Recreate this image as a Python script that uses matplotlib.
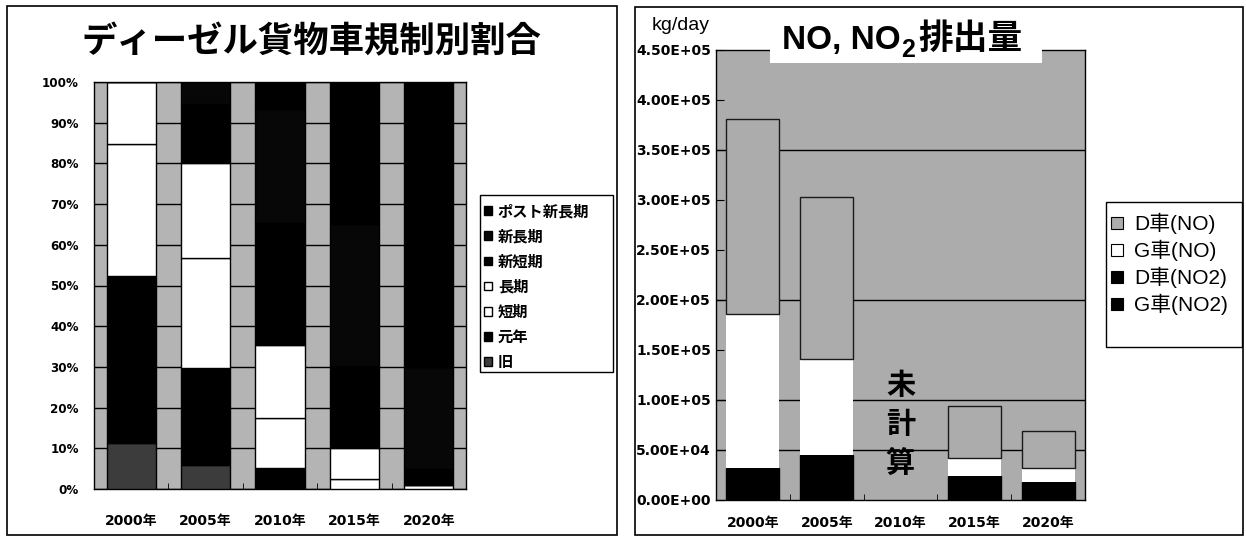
import numpy as np
import matplotlib
matplotlib.use("Agg")
import matplotlib.pyplot as plt
from matplotlib.patches import Rectangle, Patch
from matplotlib.text import Annotation

# ---------------------------------------------------------------- data
years = ["2000年", "2005年", "2010年", "2015年", "2020年"]

# ディーゼル貨物車 規制別構成比 (%), stacked bottom -> top
reg_labels = ["旧", "元年", "短期", "長期", "新短期", "新長期", "ポスト新長期"]
share_old = [11.3, 6.0, 0.0, 0.0, 0.0]
share_h1 = [41.0, 23.7, 5.2, 0.0, 0.0]
share_short = [32.4, 27.0, 12.2, 2.5, 1.0]
share_long = [15.3, 23.3, 18.0, 7.6, 0.0]
share_new_short = [0.0, 14.7, 30.0, 20.0, 4.0]
share_new_long = [0.0, 5.3, 28.0, 35.0, 25.0]
share_post = [0.0, 0.0, 6.6, 34.9, 70.0]

# NO / NO2 排出量 (kg/day), stacked bottom -> top; 2010年 is not computed
emis_labels = ["G車(NO2)", "D車(NO2)", "G車(NO)", "D車(NO)"]
g_no2 = [4000, 3300, np.nan, 1700, 1200]
d_no2 = [28000, 41000, np.nan, 22000, 16500]
g_no = [153300, 96000, np.nan, 18300, 14300]
d_no = [194700, 161700, np.nan, 51300, 36300]

# ---------------------------------------------------------------- layout
W, H = 1246, 541
fig = plt.figure(figsize=(W / 100, H / 100), dpi=100, facecolor="white")


def fx(px):
    return px / W


def fy(py):
    return 1 - py / H


CJK = "Noto Sans CJK JP"
LAT = ["DejaVu Sans", CJK]
ARIAL = ["Liberation Sans", CJK]
BG_LEFT = "#b4b4b4"
BG_RIGHT = "#acacac"

# panel frames
for x0, y0, x1, y1 in [(7, 6, 617, 535), (635, 7, 1243, 535)]:
    fig.add_artist(Rectangle((fx(x0), fy(y1)), (x1 - x0) / W, (y1 - y0) / H,
                             transform=fig.transFigure, fill=False,
                             ec="black", lw=1.2, zorder=0))

# ================================================================ left chart
ax1 = fig.add_axes([fx(94), fy(489), (466 - 94) / W, (489 - 82) / H])
ax1.set_facecolor(BG_LEFT)
x = np.arange(len(years))
ax1.set_xlim(-0.5, len(years) - 0.5)
ax1.set_ylim(0, 100)

left_series = [share_old, share_h1, share_short, share_long,
               share_new_short, share_new_long, share_post]
left_colors = ["#3c3c3c", "black", "white", "white", "black", "#070707", "black"]

bottom = np.zeros(len(years))
left_handles = []
for lab, vals, col in zip(reg_labels, left_series, left_colors):
    vals = np.asarray(vals, dtype=float)
    ax1.bar(x, vals, 0.66, bottom=bottom, color=col, edgecolor="black",
            linewidth=1.0, zorder=3)
    bottom += vals
    left_handles.append(Patch(facecolor=col, edgecolor="black", linewidth=1.0, label=lab))

ax1.set_yticks(np.arange(0, 101, 10))
ax1.set_yticklabels([f"{v}%" for v in range(0, 101, 10)],
                    family=LAT, fontsize=8.6, fontweight="bold")
ax1.yaxis.grid(True, color="black", linewidth=1.0, zorder=1)
ax1.set_axisbelow(True)
ax1.set_xticks(x)
ax1.set_xticklabels(years, family=LAT, fontsize=10, fontweight="bold")
ax1.set_xticks(np.arange(0.5, len(years) - 0.5, 1), minor=True)
ax1.tick_params(axis="x", which="major", length=0, pad=18)
ax1.tick_params(axis="x", which="minor", direction="in", length=4, color="black")
ax1.tick_params(axis="y", length=0, pad=11)
for s in ax1.spines.values():
    s.set_color("black")
    s.set_linewidth(1.0)

fig.text(fx(311), fy(42), "ディーゼル貨物車規制別割合", ha="center", va="center",
         family=CJK, fontsize=25.5, fontweight="bold")

# legend box + entries (top entry = top of stack)
fig.add_artist(Rectangle((fx(480), fy(372)), (613 - 480) / W, (372 - 195) / H,
                         transform=fig.transFigure, fill=True, fc="white",
                         ec="black", lw=1.0, zorder=1))
fig.legend(handles=left_handles[::-1], loc="upper left",
           bbox_to_anchor=(fx(481), fy(200)), frameon=False,
           prop={"family": CJK, "size": 11, "weight": "bold"},
           handlelength=0.5, handleheight=0.5, handletextpad=0.4,
           labelspacing=0.6, borderpad=0.2, borderaxespad=0)

# ================================================================ right chart
ax2 = fig.add_axes([fx(716), fy(499.5), (1085 - 716) / W, (499.5 - 49.5) / H])
ax2.set_facecolor(BG_RIGHT)
ax2.set_xlim(-0.5, len(years) - 0.5)
ax2.set_ylim(0, 4.5e5)

for lvl in [5e4, 1e5, 2e5, 3.5e5]:
    ax2.axhline(lvl, color="black", linewidth=1.0, zorder=1)

right_series = [g_no2, d_no2, g_no, d_no]
right_face = ["black", "black", "white", BG_RIGHT]
right_edge = ["black", "black", "none", "#1a1a1a"]
bottom = np.zeros(len(years))
right_handles = {}
for lab, vals, fc, ec in zip(emis_labels, right_series, right_face, right_edge):
    vals = np.asarray(vals, dtype=float)
    ax2.bar(x, vals, 0.72, bottom=bottom, color=fc, edgecolor=ec,
            linewidth=1.0, zorder=3)
    bottom += np.nan_to_num(vals)
    right_handles[lab] = Patch(facecolor=fc, edgecolor="black",
                               linewidth=0.8, label=lab)

ax2.text(2, 7.55e4, "未\n計\n算", ha="center", va="center", family=CJK,
         fontsize=21, fontweight="bold", linespacing=1.38, zorder=4)

yt = np.arange(0, 4.5e5 + 1, 5e4)
ax2.set_yticks(yt)
ax2.set_yticklabels([f"{v:.2E}" for v in yt], family=LAT, fontsize=10,
                    fontweight="bold")
for lab in ax2.get_yticklabels():
    lab.set_horizontalalignment("left")
ax2.tick_params(axis="y", direction="in", length=6, pad=57.6, color="black")
ax2.set_xticks(x)
ax2.set_xticklabels(years, family=LAT, fontsize=10, fontweight="bold")
ax2.set_xticks(np.arange(0.5, len(years) - 0.5, 1), minor=True)
ax2.tick_params(axis="x", which="major", length=0, pad=12)
ax2.tick_params(axis="x", which="minor", direction="in", length=4, color="black")
for s in ax2.spines.values():
    s.set_color("black")
    s.set_linewidth(1.0)

fig.text(fx(652), fy(25), "kg/day", ha="left", va="center", family=ARIAL,
         fontsize=14)

# title on a white plate that cuts into the plot area
fig.add_artist(Rectangle((fx(770), fy(63)), (1042 - 770) / W, (63 - 14) / H,
                         transform=fig.transFigure, fc="white", ec="none", zorder=5))
t1 = fig.text(fx(782), fy(49), "NO, NO", ha="left", va="baseline",
              family=ARIAL, fontsize=24, fontweight="bold", zorder=6)
sub = Annotation("2", xy=(1.0, fy(57)), xycoords=(t1, "figure fraction"),
                 ha="left", va="baseline", family=ARIAL, fontsize=18,
                 fontweight="bold", annotation_clip=False, zorder=6)
fig.add_artist(sub)
rest = Annotation("排出量", xy=(1.0, fy(49)), xycoords=(sub, "figure fraction"),
                  xytext=(3, 0), textcoords="offset points",
                  ha="left", va="baseline", family=CJK, fontsize=25,
                  fontweight="bold", annotation_clip=False, zorder=6)
fig.add_artist(rest)

# legend box + entries
fig.add_artist(Rectangle((fx(1106), fy(347)), (1242 - 1106) / W, (347 - 202) / H,
                         transform=fig.transFigure, fc="white", ec="black",
                         lw=1.0, zorder=1))
order = ["D車(NO)", "G車(NO)", "D車(NO2)", "G車(NO2)"]
fig.legend(handles=[right_handles[k] for k in order], loc="upper left",
           bbox_to_anchor=(fx(1107), fy(209)), frameon=False,
           prop={"family": ARIAL, "size": 15},
           handlelength=0.55, handleheight=0.55, handletextpad=0.55,
           labelspacing=0.28, borderpad=0.2, borderaxespad=0)

fig.savefig("out.png", dpi=100, facecolor="white")
